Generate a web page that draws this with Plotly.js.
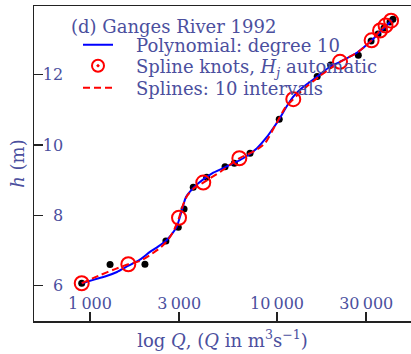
<!DOCTYPE html>
<html><head><meta charset="utf-8">
<script src="https://cdn.plot.ly/plotly-3.0.1.min.js"></script>
<style>html,body{margin:0;padding:0;background:#fff}</style>
</head><body><div id="chart" style="width:411px;height:354px"></div>
<script>
// Observed data (discharge Q in m^3/s, stage h in m)
const dataQ = [903, 1280, 1967, 2546, 2965, 3184, 3565, 4206, 5273, 5915, 7174, 10280, 16400, 19360, 27220, 31850, 34690, 37350, 40200, 41690];
const dataH = [6.07, 6.60, 6.61, 7.27, 7.66, 8.18, 8.80, 9.08, 9.38, 9.48, 9.76, 10.73, 11.94, 12.27, 12.55, 12.95, 13.15, 13.32, 13.49, 13.57];

// Spline knots (automatic H_j)
const knotQ = [903, 1603, 2993, 4034, 6290, 12220, 21730, 32060, 35560, 38050, 40740];
const knotH = [6.07, 6.61, 7.93, 8.93, 9.62, 11.30, 12.36, 12.97, 13.25, 13.39, 13.53];

// Polynomial degree-10 curve
const polyQ = [903, 1063, 1203, 1394, 1597, 1850, 2092, 2311, 2573, 2745, 2912, 3029, 3155, 3260, 3424, 3796, 4564, 5605, 6607, 7789, 8810, 9557, 10280, 11260, 12220, 13830, 16420, 19190, 21720, 27100, 32200, 41210];
const polyH = [6.07, 6.18, 6.26, 6.39, 6.56, 6.74, 6.96, 7.11, 7.30, 7.47, 7.68, 7.96, 8.29, 8.52, 8.67, 8.91, 9.21, 9.43, 9.62, 9.90, 10.22, 10.48, 10.73, 11.09, 11.37, 11.65, 11.94, 12.22, 12.36, 12.64, 12.98, 13.55];

// Spline (10 intervals) curve
const splQ = [903, 1131, 1361, 1603, 1850, 2092, 2368, 2612, 2812, 2993, 3141, 3305, 3557, 4034, 4955, 6290, 7622, 8630, 9760, 11040, 12220, 14130, 16980, 21730, 27100, 32060, 35560, 38050, 40740];
const splH = [6.07, 6.30, 6.47, 6.61, 6.70, 6.87, 7.07, 7.30, 7.58, 7.93, 8.29, 8.55, 8.75, 8.93, 9.23, 9.62, 9.83, 10.05, 10.54, 11.05, 11.30, 11.62, 11.96, 12.36, 12.64, 12.97, 13.25, 13.39, 13.53];

const xTickVals = [1000, 3000, 10000, 30000];
const xTickText = ["1\u2009000", "3\u2009000", "10\u2009000", "30\u2009000"];
const yTickVals = [6, 8, 10, 12];
const yTickText = ["\u20076", "\u20078", "10", "12"];

const legendTitle = "(d) Ganges River 1992";
const namePoly = "\u2003Polynomial: degree 10";
const nameKnots = "\u2003Spline knots, <i>H<sub>j</sub></i> automatic";
const nameSpl = "\u2003Splines: 10 intervals";

const txtColor = "#4b4f9e";
const fontFam = "DejaVu Serif, serif";
const legFont = {family: fontFam, size: 18, color: txtColor};

const traces = [
  {x: dataQ, y: dataH, mode: "markers", type: "scatter", showlegend: false,
   marker: {color: "#000", size: 7}},
  {x: polyQ, y: polyH, mode: "lines", type: "scatter", name: namePoly, legend: "legend",
   line: {color: "#0000ff", width: 2, shape: "spline", smoothing: 0.6}},
  {x: splQ, y: splH, mode: "lines", type: "scatter", name: nameSpl, legend: "legend3",
   line: {color: "#ff0000", width: 2, dash: "7px,4px", shape: "spline", smoothing: 0.6}},
  {x: knotQ, y: knotH, mode: "markers", type: "scatter", name: nameKnots, showlegend: false,
   marker: {symbol: "circle-open", color: "#ff0000", size: 14, line: {width: 2}}},
  {x: [null], y: [null], mode: "markers", type: "scatter", name: nameKnots, legend: "legend2",
   marker: {symbol: "circle-open-dot", color: "#ff0000", size: 12, line: {width: 2}}}
];

function leg(ypx) {
  return {x: (78 - 34) / 377, y: (321 - ypx) / 315, xanchor: "left", yanchor: "middle",
          bgcolor: "rgba(0,0,0,0)", borderwidth: 0, itemwidth: 30, font: legFont};
}

const layout = {
  width: 411, height: 354,
  margin: {l: 34, r: 0, t: 6, b: 33},
  paper_bgcolor: "#fff", plot_bgcolor: "#fff",
  font: {family: fontFam, size: 16, color: txtColor},
  showlegend: true,
  legend: leg(45),
  legend2: leg(66),
  legend3: leg(88),
  annotations: [{
    text: legendTitle, xref: "paper", yref: "paper",
    x: (69 - 34) / 377, y: (321 - 27) / 315, xanchor: "left", yanchor: "middle",
    showarrow: false, font: legFont
  }],
  xaxis: {
    type: "log", range: [2.7005, 4.7166],
    tickvals: xTickVals, ticktext: xTickText,
    ticks: "inside", ticklen: 9, tickwidth: 1.5, tickcolor: "#222",
    ticklabelposition: "inside",
    showline: true, linecolor: "#222", linewidth: 1.5, mirror: true,
    showgrid: false, zeroline: false,
    tickfont: {family: fontFam, size: 16, color: txtColor},
    title: {text: "log <i>Q</i>, (<i>Q</i> in m<sup>3</sup>s<sup>\u22121</sup>)", standoff: 22,
            font: {family: fontFam, size: 18, color: txtColor}},
    automargin: false
  },
  yaxis: {
    range: [4.997, 13.946],
    tickvals: yTickVals, ticktext: yTickText,
    ticks: "inside", ticklen: 9, tickwidth: 1.5, tickcolor: "#222",
    ticklabelposition: "inside",
    showline: true, linecolor: "#222", linewidth: 1.5,
    showgrid: false, zeroline: false,
    tickfont: {family: fontFam, size: 16, color: txtColor},
    title: {text: "<i>h</i> (m)", standoff: 13,
            font: {family: fontFam, size: 18, color: txtColor}},
    automargin: false
  }
};

Plotly.newPlot("chart", traces, layout, {displayModeBar: false, staticPlot: true});
</script>
</body></html>
